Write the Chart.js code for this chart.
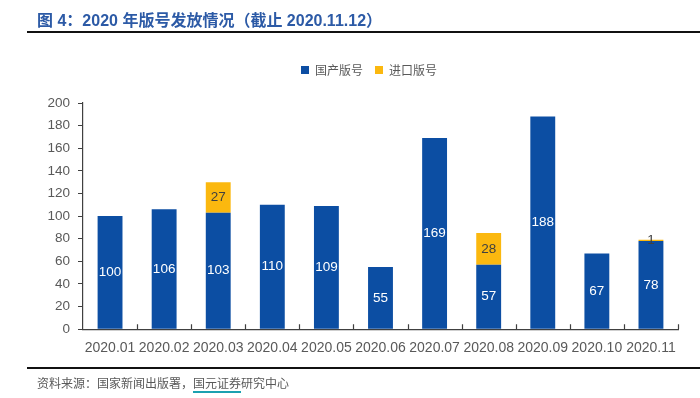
<!DOCTYPE html>
<html>
<head>
<meta charset="utf-8">
<script src="https://cdn.jsdelivr.net/npm/chart.js@4"></script>
<style>
  html, body { margin: 0; padding: 0; background: #fff; }
  #wrap { position: relative; width: 700px; height: 398px; overflow: hidden; }
  #line-chart { position: absolute; left: 0; top: 0; }
  .title {
    position: absolute; left: 37px; top: 7px;
    font: bold 16px "Liberation Sans", "Noto Sans CJK SC", sans-serif;
    color: #2c5aa6; white-space: nowrap;
  }
  .rule { position: absolute; left: 27px; width: 673px; height: 2px; background: #111; }
  .source {
    position: absolute; left: 37px; top: 374px;
    font: 12px "Noto Sans CJK SC", sans-serif; color: #595959; white-space: nowrap;
  }
  .source u { text-decoration: none; border-bottom: 2px solid #1ba1b0; }
</style>
</head>
<body>
<div id="wrap">
  <canvas id="line-chart" width="700" height="398"></canvas>
  <div class="title">图 4：2020 年版号发放情况（截止 2020.11.12）</div>
  <div class="rule" style="top:31px"></div>
  <div class="rule" style="top:367px"></div>
  <div class="source">资料来源：国家新闻出版署，<u>国元证券</u>研究中心</div>
</div>
<script>
var months = ["2020.01", "2020.02", "2020.03", "2020.04", "2020.05", "2020.06",
              "2020.07", "2020.08", "2020.09", "2020.10", "2020.11"];
var domestic = [100, 106, 103, 110, 109, 55, 169, 57, 188, 67, 78];
var imported = [0, 0, 27, 0, 0, 0, 0, 28, 0, 0, 1];
var yTicks = [0, 20, 40, 60, 80, 100, 120, 140, 160, 180, 200];

var FONT = "'Liberation Sans', Arial, sans-serif";

// push the plot down below the legend, and centre the legend over the plot
var legendSpace = {
    id: 'legendSpace',
    beforeInit: function (chart) {
        var fit = chart.legend.fit;
        chart.legend.fit = function () {
            fit.bind(chart.legend)();
            this.height += 17;
        };
    },
    afterLayout: function (chart) {
        chart.legend.left += 30;
    }
};

// value labels in the middle of each segment
var barLabels = {
    id: 'barLabels',
    afterDatasetsDraw: function (chart) {
        var ctx = chart.ctx;
        ctx.save();
        ctx.font = "13.5px " + FONT;
        ctx.textAlign = 'center';
        ctx.textBaseline = 'middle';
        chart.data.datasets.forEach(function (ds, i) {
            chart.getDatasetMeta(i).data.forEach(function (bar, j) {
                var v = ds.data[j];
                if (!v) return;
                ctx.fillStyle = i === 0 ? '#ffffff' : '#404040';
                ctx.fillText(v, bar.x, (bar.y + bar.base) / 2);
            });
        });
        ctx.restore();
    }
};

// small tick marks between categories, pointing up into the plot
var innerTicks = {
    id: 'innerTicks',
    afterDraw: function (chart) {
        var x = chart.scales.x, ctx = chart.ctx;
        var n = months.length, step = (x.right - x.left) / n;
        ctx.save();
        ctx.strokeStyle = '#404040';
        ctx.lineWidth = 1.2;
        ctx.beginPath();
        for (var i = 1; i <= n; i++) {
            var px = Math.round(x.left + i * step) + 0.5;
            ctx.moveTo(px, x.top);
            ctx.lineTo(px, x.top - 5);
        }
        ctx.stroke();
        ctx.restore();
    }
};

var ctx = document.getElementById('line-chart');
var chart = new Chart(ctx, {
    type: 'bar',
    data: {
        labels: months,
        datasets: [{
            label: "国产版号",
            data: domestic,
            backgroundColor: "#0c4ea3",
            barPercentage: 0.46,
            categoryPercentage: 1.0
        }, {
            label: "进口版号",
            data: imported,
            backgroundColor: "#fbb80f",
            barPercentage: 0.46,
            categoryPercentage: 1.0
        }]
    },
    options: {
        responsive: false,
        animation: false,
        layout: { padding: { top: 52, left: 30, right: 22, bottom: 30 } },
        plugins: {
            legend: {
                position: 'top',
                labels: {
                    boxWidth: 8,
                    boxHeight: 8,
                    padding: 12,
                    color: '#595959',
                    font: { family: "'Noto Sans CJK SC', sans-serif", size: 12 }
                }
            },
            tooltip: { enabled: false }
        },
        scales: {
            x: {
                stacked: true,
                grid: { display: false, drawTicks: false },
                border: { display: true, color: '#404040', width: 1.2 },
                ticks: {
                    color: '#595959', padding: 11, maxRotation: 0, autoSkip: false,
                    font: { family: FONT, size: 14 }
                }
            },
            y: {
                stacked: true,
                min: 0,
                max: 200,
                afterBuildTicks: function (scale) {
                    scale.ticks = yTicks.map(function (v) { return { value: v }; });
                },
                afterFit: function (scale) { scale.width = 53; },
                grid: { drawOnChartArea: false, drawTicks: true, tickLength: 5, color: '#404040' },
                border: { display: true, color: '#404040', width: 1.2 },
                ticks: { color: '#595959', padding: 8, font: { family: FONT, size: 13.5 } }
            }
        }
    },
    plugins: [legendSpace, barLabels, innerTicks]
});
</script>
</body>
</html>
